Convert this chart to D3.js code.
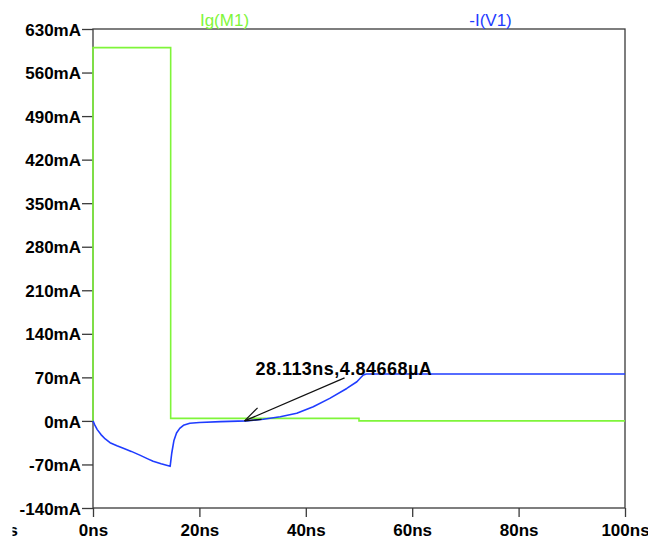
<!DOCTYPE html>
<html><head><meta charset="utf-8">
<script src="https://cdn.jsdelivr.net/npm/d3@7"></script>
<style>
html,body{margin:0;padding:0;background:#fff;}
svg{display:block;}
text{font-family:"Liberation Sans",Arial,sans-serif;}
</style></head>
<body>
<script>
// ---- data ----
const xTicks = [0, 20, 40, 60, 80, 100];            // ns
const yTicks = [-140, -70, 0, 70, 140, 210, 280, 350, 420, 490, 560, 630]; // mA
const seriesNames = ["Ig(M1)", "-I(V1)"];
// Ig(M1) (mA) vs time (ns)
const igTime = [0, 0, 14.6, 14.6, 50, 50, 100];
const igVal  = [0, 600, 600, 4, 4, 0, 0];
// -I(V1) (mA) vs time (ns)
const ivTime = [0, 0.3, 0.8, 1.5, 2.3, 3.2, 4.5, 5.7, 7.2, 8.8, 10.3, 11.3, 12.8, 14.5, 14.8, 15.2, 15.7, 16.3, 17, 18.2, 20, 24, 28.9, 32, 35.2, 38.3, 41.4, 44.5, 47.7, 49.6, 50.8, 51.4, 60, 100];
const ivVal  = [0, -6, -14, -22, -29, -35, -40, -44, -49, -55, -61, -65, -69, -73, -52, -32, -19.5, -12, -7, -3.7, -2.5, -1.2, 0, 2.7, 6.8, 12.2, 22.8, 36.2, 52.2, 63, 73.7, 75.3, 75.5, 75.5];
const cursor = {t: 28.113, v: 0.00484668, label: "28.113ns,4.84668µA"};

// ---- layout ----
const W = 648, H = 540;
const L = 93, R = 625, T = 29, B = 508;
const green = "#7ff53a", blue = "#1f3cff", axisCol = "#3a3a3a";

const svg = d3.select("body").append("svg").attr("width", W).attr("height", H);
const x = d3.scaleLinear().domain([0, 100]).range([L, R]);
const y = d3.scaleLinear().domain([-140, 630]).range([B, T]);

// frame
svg.append("rect").attr("x", L).attr("y", T).attr("width", R - L).attr("height", B - T)
  .attr("fill", "none").attr("stroke", axisCol).attr("stroke-width", 1.3);

// axes
const xAxis = d3.axisBottom(x).tickValues(xTicks).tickSize(9).tickFormat(d => d + "ns");
const gx = svg.append("g").attr("transform", `translate(0,${B})`).call(xAxis);
gx.select(".domain").remove();
gx.selectAll("line").attr("stroke", axisCol).attr("stroke-width", 1.3);
gx.selectAll("text").attr("fill", "#000").attr("font-size", 17).attr("font-weight", "bold")
  .attr("dy", null).attr("y", 28);

const yAxis = d3.axisLeft(y).tickValues(yTicks).tickSize(11).tickPadding(1).tickFormat(d => d + "mA");
const gy = svg.append("g").attr("transform", `translate(${L},0)`).call(yAxis);
gy.select(".domain").remove();
gy.selectAll("line").attr("stroke", axisCol).attr("stroke-width", 1.3);
gy.selectAll("text").attr("fill", "#000").attr("font-size", 17).attr("font-weight", "bold")
  .attr("dy", "0.36em");

// clipped fragment at bottom-left
const clip = svg.append("clipPath").attr("id", "frag");
clip.append("rect").attr("x", 12.5).attr("y", 500).attr("width", 20).attr("height", 40);
svg.append("text").attr("clip-path", "url(#frag)").attr("x", 18).attr("y", 536)
  .attr("text-anchor", "end").attr("font-size", 17).attr("font-weight", "bold").text("s");

// traces
const line = d3.line().x(d => x(d[0])).y(d => y(d[1]));
svg.append("path").datum(igTime.map((t, i) => [t, igVal[i]]))
  .attr("d", line).attr("fill", "none").attr("stroke", green).attr("stroke-width", 1.6);
svg.append("path").datum(ivTime.map((t, i) => [t, ivVal[i]]))
  .attr("d", line).attr("fill", "none").attr("stroke", blue).attr("stroke-width", 1.6)
  .attr("stroke-linejoin", "round");

// legend labels
svg.append("text").attr("x", 224.5).attr("y", 26).attr("text-anchor", "middle")
  .attr("font-size", 17).attr("fill", green).text(seriesNames[0]);
svg.append("text").attr("x", 490.5).attr("y", 26).attr("text-anchor", "middle")
  .attr("font-size", 17).attr("fill", blue).text(seriesNames[1]);

// cursor annotation
const tx = x(cursor.t) + 2, ty = y(cursor.v);
const ann = svg.append("g").attr("stroke", "#111").attr("stroke-width", 1.2).attr("fill", "none");
ann.append("line").attr("x1", tx).attr("y1", ty).attr("x2", tx + 100).attr("y2", ty - 43);
ann.append("line").attr("x1", tx).attr("y1", ty).attr("x2", tx + 13).attr("y2", ty - 13);
ann.append("line").attr("x1", tx).attr("y1", ty).attr("x2", tx + 17).attr("y2", ty - 1.5);
svg.append("text").attr("x", tx + 11).attr("y", ty - 46).attr("font-size", 18)
  .attr("font-weight", "bold").attr("letter-spacing", 0.45).attr("fill", "#000").text(cursor.label);
</script>
</body></html>
